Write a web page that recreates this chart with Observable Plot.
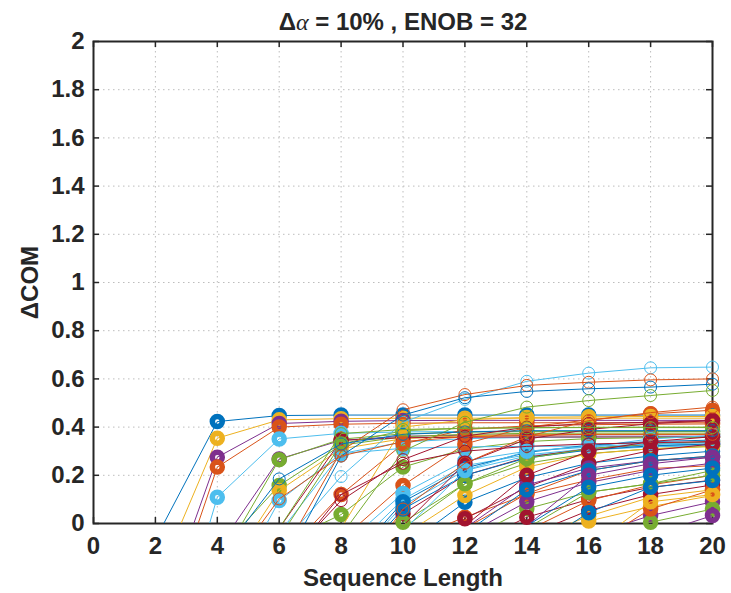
<!DOCTYPE html>
<html>
<head>
<meta charset="utf-8">
<script src="https://cdn.jsdelivr.net/npm/d3@7"></script>
<script src="https://cdn.jsdelivr.net/npm/@observablehq/plot@0.6"></script>
<style>
  html, body { margin: 0; padding: 0; background: #fff; }
</style>
</head>
<body>
<script>
// ---- data ----
const seqLength = [2, 4, 6, 8, 10, 12, 14, 16, 18, 20];
const xTicks = [0, 2, 4, 6, 8, 10, 12, 14, 16, 18, 20];
const yTicks = [0, 0.2, 0.4, 0.6, 0.8, 1, 1.2, 1.4, 1.6, 1.8, 2];
const titleText = "Δα = 10% , ENOB = 32";
const xLabel = "Sequence Length";
const yLabel = "ΔCOM";

// MATLAB default colour order
const palette = {B: "#0072BD", O: "#D95319", Y: "#EDB120", P: "#7E2F8E", G: "#77AC30", L: "#4DBEEE", R: "#A2142F"};

// series drawn with heavy markers (values at seqLength)
const thickColors = ["B","Y","P","O","L","P","G","G","Y","L","R","G","L","G","O","O","L","L","L","R","G","B","B","Y","R",
  "O","B","Y","G","L","R","P","O","G","R","R","P","B","Y","Y","R","O","G","P","B","P","G","P","O","Y","B"];
const thickSeries = [
  [-0.066, 0.423, 0.448, 0.45, 0.45, 0.45, 0.45, 0.45, 0.45, 0.45],
  [-0.251, 0.354, 0.43, 0.435, 0.437, 0.437, 0.437, 0.437, 0.437, 0.437],
  [-0.449, 0.275, 0.415, 0.424, 0.427, 0.428, 0.428, 0.428, 0.428, 0.428],
  [-0.521, 0.234, 0.40, 0.412, 0.416, 0.418, 0.418, 0.418, 0.418, 0.418],
  [-0.763, 0.109, 0.351, 0.374, 0.38, 0.382, 0.383, 0.383, 0.383, 0.383],
  [-0.9, -0.107, 0.268, 0.345, 0.362, 0.366, 0.368, 0.368, 0.368, 0.368],
  [-1.0, -0.177, 0.265, 0.35, 0.372, 0.379, 0.381, 0.382, 0.382, 0.382],
  [-0.8, -0.122, 0.158, 0.325, 0.36, 0.37, 0.374, 0.375, 0.375, 0.375],
  [-1.0, -0.254, 0.137, 0.31, 0.352, 0.364, 0.368, 0.37, 0.37, 0.37],
  [-1.1, -0.38, 0.095, 0.29, 0.338, 0.352, 0.357, 0.359, 0.36, 0.36],
  [-1.2, -0.5, -0.02, 0.345, 0.356, 0.358, 0.359, 0.359, 0.359, 0.359],
  [-1.5, -0.7, -0.086, 0.037, 0.234, 0.31, 0.34, 0.352, 0.356, 0.358],
  [-1.3, -0.6, -0.04, 0.29, 0.312, 0.318, 0.32, 0.321, 0.321, 0.321],
  [-1.2, -0.6, -0.06, 0.33, 0.385, 0.395, 0.398, 0.399, 0.4, 0.4],
  [-1.5, -0.8, -0.15, 0.12, 0.33, 0.39, 0.405, 0.41, 0.412, 0.413],
  [-2.0, -1.2, -0.5, -0.068, 0.158, 0.33, 0.40, 0.43, 0.455, 0.47],
  [-2.0, -1.2, -0.5, -0.1, 0.125, 0.26, 0.30, 0.317, 0.351, 0.365],
  [-2.0, -1.2, -0.6, -0.15, 0.10, 0.24, 0.285, 0.31, 0.325, 0.33],
  [-2.0, -1.3, -0.6, -0.2, 0.075, 0.22, 0.28, 0.305, 0.318, 0.324],
  [-2.0, -1.4, -0.7, -0.25, 0.04, 0.20, 0.275, 0.31, 0.33, 0.338],
  [-2.0, -1.4, -0.7, -0.3, 0.005, 0.165, 0.25, 0.29, 0.31, 0.32],
  [-2.0, -1.3, -0.6, -0.2, 0.09, 0.23, 0.295, 0.325, 0.34, 0.346],
  [-2.0, -1.3, -0.6, -0.22, 0.06, 0.20, 0.272, 0.305, 0.322, 0.33],
  [-1.5, -0.8, -0.25, -0.02, 0.40, 0.43, 0.44, 0.443, 0.444, 0.444],
  [-2.0, -1.3, -0.7, -0.25, -0.01, 0.25, 0.35, 0.39, 0.414, 0.427],
  [-3.0, -2.0, -1.2, -0.6, -0.078, 0.026, 0.12, 0.18, 0.228, 0.24],
  [-3.0, -2.0, -1.2, -0.5, -0.1, 0.088, 0.19, 0.25, 0.28, 0.30],
  [-3.0, -2.0, -1.1, -0.45, -0.05, 0.116, 0.234, 0.289, 0.31, 0.32],
  [-3.0, -1.9, -1.0, -0.4, -0.02, 0.165, 0.27, 0.31, 0.33, 0.34],
  [-2.5, -1.6, -0.8, -0.3, -0.03, 0.22, 0.30, 0.32, 0.33, 0.335],
  [-3.0, -2.1, -1.3, -0.7, -0.2, 0.02, 0.15, 0.248, 0.303, 0.33],
  [-3.0, -2.2, -1.4, -0.8, -0.3, -0.02, 0.16, 0.23, 0.26, 0.275],
  [-3.0, -2.2, -1.4, -0.8, -0.3, -0.02, 0.123, 0.22, 0.26, 0.28],
  [-3.0, -2.2, -1.4, -0.8, -0.35, -0.07, 0.061, 0.13, 0.165, 0.22],
  [-3.0, -2.2, -1.5, -0.9, -0.4, -0.1, 0.026, 0.10, 0.15, 0.18],
  [-3.0, -2.0, -1.2, -0.7, -0.25, -0.01, 0.2, 0.3, 0.34, 0.36],
  [-3.0, -2.2, -1.5, -0.9, -0.4, -0.05, 0.09, 0.17, 0.22, 0.25],
  [-3.0, -2.1, -1.4, -0.8, -0.3, -0.04, 0.14, 0.22, 0.26, 0.28],
  [-3.0, -2.4, -1.8, -1.2, -0.7, -0.35, -0.1, 0.01, 0.07, 0.116],
  [-3.0, -2.4, -1.7, -1.1, -0.6, -0.3, -0.07, 0.03, 0.109, 0.14],
  [-3.0, -2.3, -1.6, -1.0, -0.55, -0.25, -0.05, 0.054, 0.12, 0.16],
  [-3.0, -2.3, -1.6, -1.0, -0.5, -0.2, -0.03, 0.095, 0.16, 0.20],
  [-3.0, -2.2, -1.5, -0.9, -0.45, -0.18, -0.02, 0.13, 0.165, 0.2],
  [-3.0, -2.2, -1.4, -0.8, -0.4, -0.12, -0.01, 0.2, 0.248, 0.275],
  [-3.0, -2.2, -1.5, -0.9, -0.45, -0.15, -0.01, 0.15, 0.2, 0.23],
  [-3.0, -2.5, -2.0, -1.5, -1.0, -0.6, -0.3, -0.05, 0.033, 0.09],
  [-3.0, -2.5, -2.0, -1.5, -1.0, -0.6, -0.3, -0.08, 0.005, 0.06],
  [-3.0, -2.5, -2.0, -1.5, -1.1, -0.7, -0.4, -0.2, -0.05, 0.033],
  [-3.0, -2.5, -2.0, -1.5, -1.0, -0.6, -0.3, -0.1, 0.06, 0.14],
  [-3.0, -2.5, -2.0, -1.5, -1.0, -0.6, -0.3, -0.1, 0.09, 0.12],
  [-3.0, -2.4, -1.8, -1.2, -0.7, -0.4, -0.12, 0.045, 0.15, 0.178]
];

// series drawn with thin open markers
const thinColors = ["L","O","B","G","B","O","R","O","G","R"];
const thinSeries = [
  [-1.5, -0.8, -0.1, 0.195, 0.42, 0.515, 0.59, 0.624, 0.646, 0.649],
  [-1.3, -0.7, -0.15, 0.30, 0.472, 0.535, 0.573, 0.586, 0.596, 0.60],
  [-1.3, -0.7, -0.2, 0.28, 0.45, 0.522, 0.548, 0.559, 0.566, 0.578],
  [-1.5, -1.0, -0.5, -0.05, 0.30, 0.42, 0.483, 0.51, 0.531, 0.552],
  [-0.9, -0.15, 0.185, 0.33, 0.37, 0.38, 0.385, 0.385, 0.385, 0.385],
  [-1.0, -0.25, 0.102, 0.28, 0.34, 0.36, 0.365, 0.37, 0.37, 0.37],
  [-1.5, -0.9, -0.18, 0.095, 0.265, 0.362, 0.40, 0.415, 0.42, 0.427],
  [-2.0, -1.4, -0.8, -0.3, 0.06, 0.25, 0.36, 0.427, 0.46, 0.483],
  [-1.2, -0.5, -0.02, 0.373, 0.39, 0.395, 0.397, 0.398, 0.398, 0.398],
  [-1.6, -1.0, -0.2, 0.12, 0.25, 0.30, 0.32, 0.33, 0.335, 0.34]
];

// ---- build marks ----
const ink = "#262626";
const toPoints = vals => seqLength.map((x, i) => ({x, v: vals[i]}));
const tickLenY = 2 * 6 / 482;   // 6px inward ticks
const tickLenX = 20 * 6 / 619;

const dataMarks = [];
function addSeries(vals, col, thick) {
  const pts = toPoints(vals);
  const stroke = palette[col];
  dataMarks.push(Plot.line(pts, {x: "x", y: "v", stroke, strokeWidth: 1, clip: true}));
  dataMarks.push(Plot.dot(pts.filter(d => d.v >= 0 && d.v <= 2), {
    x: "x", y: "v", stroke, fill: "none",
    r: thick ? 5 : 6, strokeWidth: thick ? 5.5 : 1
  }));
}
thickSeries.forEach((s, i) => addSeries(s, thickColors[i], true));
thinSeries.forEach((s, i) => addSeries(s, thinColors[i], false));

const fmt = d3.format("~g");
const fs = 24;

const chart = Plot.plot({
  width: 731,
  height: 593,
  marginLeft: 93,
  marginRight: 19,
  marginTop: 41,
  marginBottom: 70,
  x: {domain: [0, 20]},
  y: {domain: [0, 2]},
  style: {fontFamily: "'Liberation Sans', Arial, sans-serif", fontSize: fs + "px", fontWeight: "bold", color: ink, background: "#fff"},
  marks: [
    Plot.ruleX(xTicks, {x: d => d, stroke: "#bdbdbd", strokeDasharray: "1.5,3.5"}),
    Plot.ruleY(yTicks, {y: d => d, stroke: "#bdbdbd", strokeDasharray: "1.5,3.5"}),
    Plot.frame({stroke: ink, strokeWidth: 2}),
    Plot.ruleX(xTicks, {x: d => d, y1: 0, y2: tickLenY, stroke: ink, strokeWidth: 1.5}),
    Plot.ruleX(xTicks, {x: d => d, y1: 2, y2: 2 - tickLenY, stroke: ink, strokeWidth: 1.5}),
    Plot.ruleY(yTicks, {y: d => d, x1: 0, x2: tickLenX, stroke: ink, strokeWidth: 1.5}),
    Plot.ruleY(yTicks, {y: d => d, x1: 20, x2: 20 - tickLenX, stroke: ink, strokeWidth: 1.5}),
    Plot.axisX(xTicks, {tickSize: 0, tickPadding: 13, label: null, tickFormat: fmt, fill: ink, fontSize: fs}),
    Plot.axisY(yTicks, {tickSize: 0, tickPadding: 9, label: null, tickFormat: fmt, fill: ink, fontSize: fs}),
    ...dataMarks,
    Plot.text([xLabel], {text: d => d, frameAnchor: "bottom", lineAnchor: "middle", dy: 55, fontSize: fs, fontWeight: "bold", fill: ink}),
    Plot.text([yLabel], {text: d => d, frameAnchor: "left", textAnchor: "middle", lineAnchor: "middle", dx: -63, rotate: -90, fontSize: fs, fontWeight: "bold", fill: ink}),
    Plot.text([titleText], {text: d => d, frameAnchor: "top", lineAnchor: "middle", dy: -19, fontSize: fs, fontWeight: "bold", fill: ink})
  ]
});

document.body.append(chart);

// italic Greek alpha in the title, as in the TeX-rendered original
d3.select(chart).selectAll("text").each(function () {
  if (this.textContent === titleText) {
    const t = d3.select(this);
    t.text(null);
    t.append("tspan").text("Δ");
    t.append("tspan").attr("font-style", "italic").attr("font-family", "'Liberation Serif', serif").attr("font-weight", "normal").text("α");
    t.append("tspan").text(" = 10% , ENOB = 32");
  }
});
</script>
</body>
</html>
